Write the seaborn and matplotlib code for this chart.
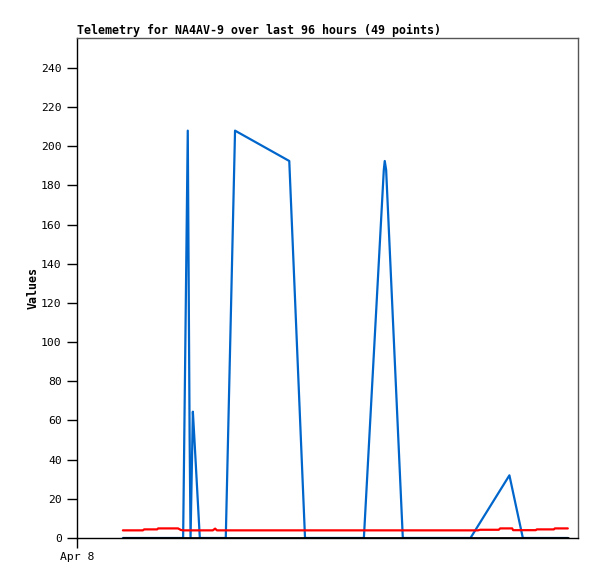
import pandas as pd
import matplotlib
matplotlib.use("Agg")
import matplotlib.pyplot as plt
import seaborn as sns

sns.set_style("white")
plt.rcParams['font.family'] = ['DejaVu Sans Mono']
plt.rcParams['text.color'] = 'black'
plt.rcParams['xtick.color'] = 'black'
plt.rcParams['ytick.color'] = 'black'
plt.rcParams['axes.labelcolor'] = 'black'

# hours since Apr 8 00:00
blue_hours = [9.9, 22.9, 23.9, 24.3, 24.5, 25.0, 25.3, 26.5, 32.1, 34.1, 45.8, 49.2,
              61.9, 66.2, 66.4, 66.7, 70.3, 84.9, 93.3, 96.2, 105.9]
blue_vals = [0, 0, 208, 52, 0, 64.5, 52, 0, 0, 208, 192.5, 0,
             0, 188, 192.5, 188, 0, 0, 32, 0, 0]

red_hours = [9.9, 14.2, 14.5, 17.3, 17.5, 21.8, 22.4, 22.9, 29.3, 29.8, 30.2,
             86.5, 87.0, 91.0, 91.3, 93.9, 94.1, 99.0, 99.2, 102.9, 103.1, 105.9]
red_vals = [3.9, 3.9, 4.4, 4.4, 4.9, 4.9, 4.1, 3.9, 3.9, 4.8, 3.9,
            3.9, 4.2, 4.2, 4.9, 4.9, 4.0, 4.0, 4.4, 4.4, 4.9, 4.9]

black_hours = [9.9, 105.9]
black_vals = [0, 0]

y_ticks = list(range(0, 241, 20))
x_tick_labels = ['Apr 8']

df_blue = pd.DataFrame({'Hour': blue_hours, 'Value': blue_vals})
df_red = pd.DataFrame({'Hour': red_hours, 'Value': red_vals})
df_black = pd.DataFrame({'Hour': black_hours, 'Value': black_vals})

W, H = 597, 579
fig = plt.figure(figsize=(W / 100, H / 100), dpi=100)
ax = fig.add_axes([77 / W, 1 - 538 / H, 501 / W, 500 / H])

sns.lineplot(x='Hour', y='Value', data=df_blue, ax=ax, color='#0066cc', linewidth=1.6,
             sort=False, estimator=None)
sns.lineplot(x='Hour', y='Value', data=df_red, ax=ax, color='#ff0000', linewidth=1.6,
             sort=False, estimator=None)
sns.lineplot(x='Hour', y='Value', data=df_black, ax=ax, color='black', linewidth=2,
             sort=False, estimator=None)

ax.set_xlim(0, 108.1)
ax.set_ylim(0, 255.3)
ax.set_yticks(y_ticks)
ax.set_xticks([0])
ax.set_xticklabels(x_tick_labels)
ax.tick_params(axis='both', labelsize=8.2, length=7, width=1, color='black', direction='out',
               left=True, bottom=True, labelcolor='black')
ax.tick_params(axis='y', pad=4)
ax.tick_params(axis='x', pad=3)

for side in ['left', 'bottom']:
    ax.spines[side].set_color('black')
    ax.spines[side].set_linewidth(1)
for side in ['top', 'right']:
    ax.spines[side].set_color('#555555')
    ax.spines[side].set_linewidth(1)

ax.set_xlabel('')
ax.set_ylabel('Values', fontsize=8.4, weight='bold', labelpad=1, color='black')
ax.set_title('Telemetry for NA4AV-9 over last 96 hours (49 points)', loc='left',
             fontsize=8.4, weight='bold', pad=3, color='black')

plt.savefig('out.png', dpi=100)
plt.close()
